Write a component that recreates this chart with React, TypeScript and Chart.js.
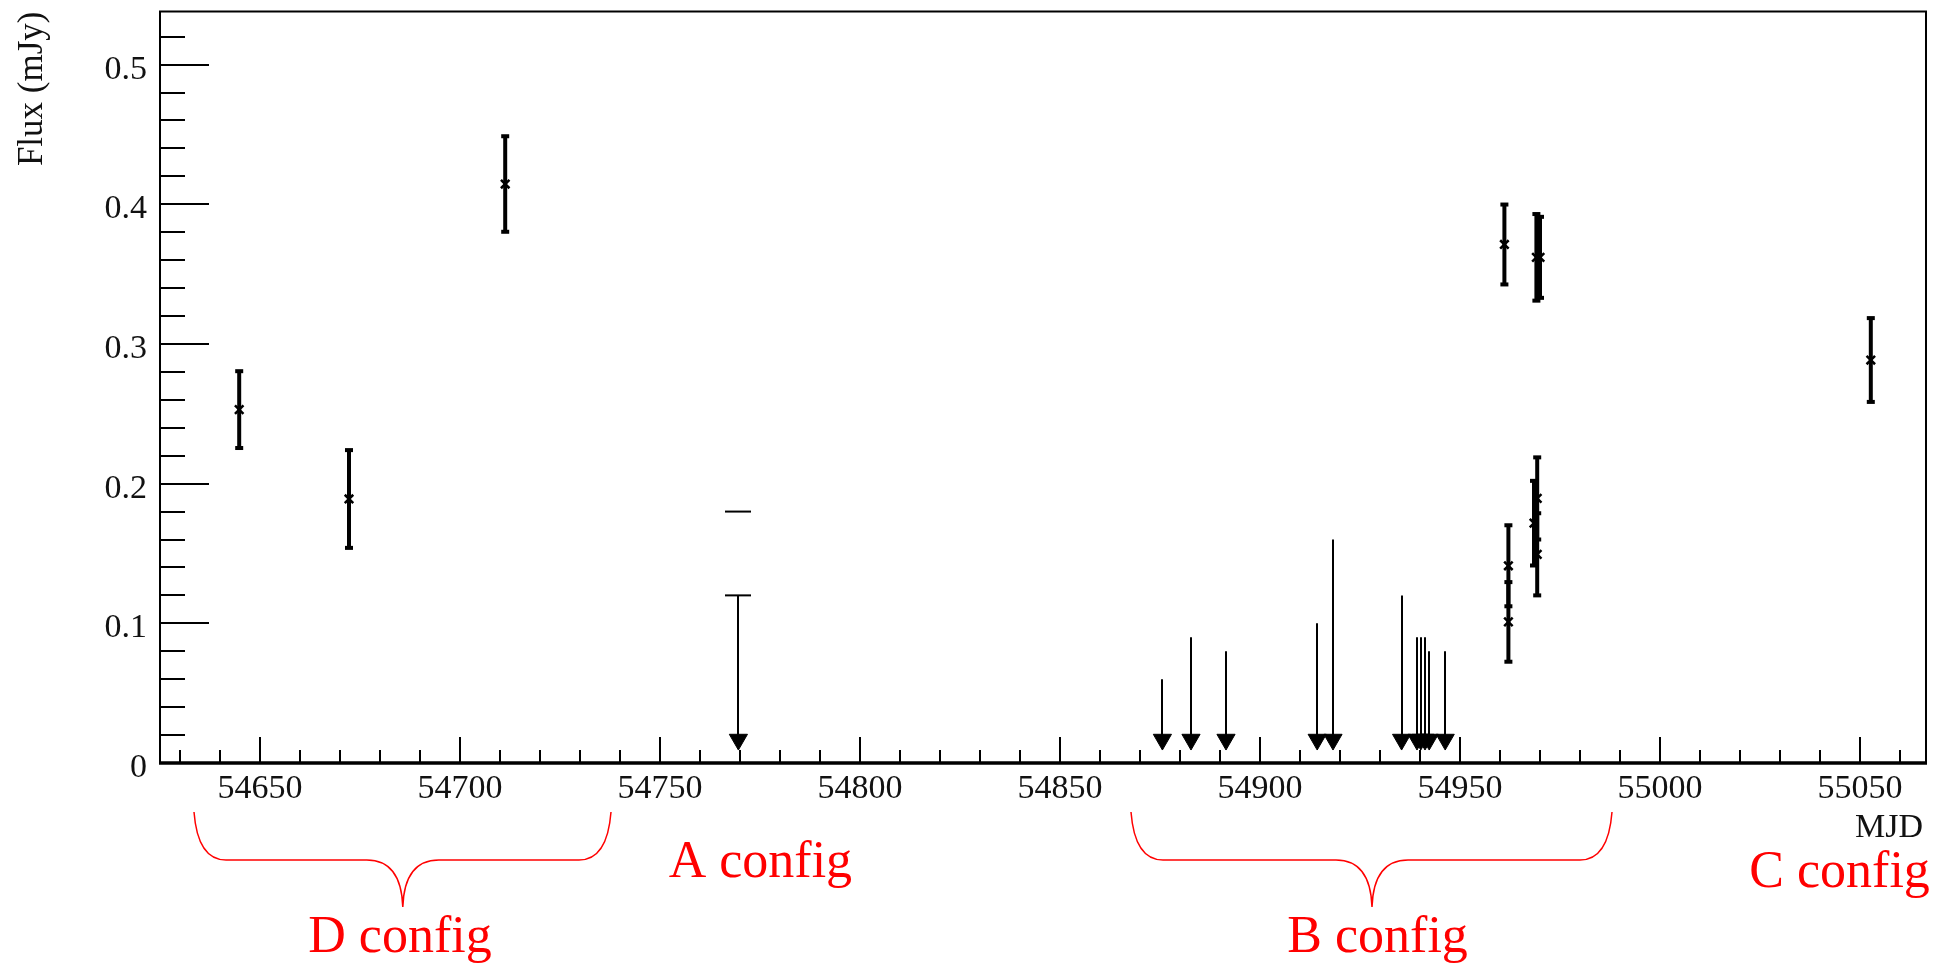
import React, { useEffect, useRef } from "react";
import { Chart, registerables } from "chart.js";

Chart.register(...registerables);

// ---- Data ----
// Detections (MJD, flux in mJy, symmetric 1-sigma error)
const DET_MJD = [54644.8, 54672.25, 54711.3, 54961.1, 54962.1, 54962.1, 54969.1, 54970.0, 54969.3, 54968.5, 54969.3, 55052.7];
const DET_FLUX = [0.253, 0.189, 0.4145, 0.3712, 0.1412, 0.101, 0.362, 0.362, 0.1894, 0.1717, 0.1494, 0.2885];
const DET_ERR = [0.0275, 0.035, 0.0342, 0.0286, 0.029, 0.0285, 0.031, 0.029, 0.0294, 0.0303, 0.0294, 0.030];

// Upper limits (MJD, flux limit in mJy)
const UL_MJD = [54769.6, 54875.6, 54882.75, 54891.5, 54914.3, 54918.25, 54935.4, 54939.25, 54940.2, 54941.25, 54942.3, 54946.3];
const UL_FLUX = [0.12, 0.06, 0.09, 0.08, 0.10, 0.16, 0.12, 0.09, 0.09, 0.09, 0.08, 0.08];
const UL_HAS_CAP = [true, false, false, false, false, false, false, false, false, false, false, false];
const UL_ARROW_END = 0.0168; // flux where the arrow heads sit

// Extra limit dash drawn above the A-config limit
const DASH_MJD = [54769.6];
const DASH_FLUX = [0.18];

// Axes
const X_MIN = 54625;
const X_MAX = 55066.5;
const Y_MIN = 0;
const Y_MAX = 0.538;
const X_MAJOR_TICKS = [54650, 54700, 54750, 54800, 54850, 54900, 54950, 55000, 55050];
const X_TICK_LABELS = ["54650", "54700", "54750", "54800", "54850", "54900", "54950", "55000", "55050"];
const X_MINOR_STEP = 10;
const Y_MAJOR_TICKS = [0, 0.1, 0.2, 0.3, 0.4, 0.5];
const Y_TICK_LABELS = ["0", "0.1", "0.2", "0.3", "0.4", "0.5"];
const Y_MINOR_STEP = 0.02;
const X_TITLE = "MJD";
const Y_TITLE = "Flux (mJy)";

// Configuration annotations
const CONFIG_LABELS = ["D config", "A config", "B config", "C config"];
const CONFIG_LABEL_MJD = [54685, 54775.1, 54929.4, 55044.9];
const CONFIG_LABEL_ROW = [1, 0, 1, 0.13];
const BRACE_START = [54633.5, 54867.75];
const BRACE_END = [54737.75, 54988];
const BRACE_TIP = [54685.7, 54928];

const SERIF = '"Liberation Serif", "Times New Roman", serif';

const overlayPlugin = {
  id: "rootStyle",
  beforeDatasetsDraw(chart: any) {
    const { ctx } = chart;
    const xs = chart.scales.x;
    const ys = chart.scales.y;
    ctx.save();
    ctx.strokeStyle = "#000";
    ctx.fillStyle = "#000";
    // error bars
    for (let i = 0; i < DET_MJD.length; i++) {
      const px = xs.getPixelForValue(DET_MJD[i]);
      const yTop = ys.getPixelForValue(DET_FLUX[i] + DET_ERR[i]);
      const yBot = ys.getPixelForValue(DET_FLUX[i] - DET_ERR[i]);
      ctx.lineWidth = 4;
      ctx.beginPath();
      ctx.moveTo(px, yTop);
      ctx.lineTo(px, yBot);
      ctx.stroke();
      ctx.fillRect(px - 4, yTop - 2, 8, 4);
      ctx.fillRect(px - 4, yBot - 2, 8, 4);
    }
    // upper-limit shafts
    ctx.lineWidth = 2;
    for (let i = 0; i < UL_MJD.length; i++) {
      const px = Math.round(xs.getPixelForValue(UL_MJD[i]));
      const yTop = ys.getPixelForValue(UL_FLUX[i]);
      const yBot = ys.getPixelForValue(UL_ARROW_END);
      ctx.beginPath();
      ctx.moveTo(px, yTop);
      ctx.lineTo(px, yBot);
      ctx.stroke();
      if (UL_HAS_CAP[i]) {
        ctx.beginPath();
        ctx.moveTo(px - 13, yTop);
        ctx.lineTo(px + 13, yTop);
        ctx.stroke();
      }
    }
    for (let i = 0; i < DASH_MJD.length; i++) {
      const px = Math.round(xs.getPixelForValue(DASH_MJD[i]));
      const py = ys.getPixelForValue(DASH_FLUX[i]);
      ctx.beginPath();
      ctx.moveTo(px - 13, py);
      ctx.lineTo(px + 13, py);
      ctx.stroke();
    }
    ctx.restore();
  },
  afterDraw(chart: any) {
    const { ctx, chartArea } = chart;
    const xs = chart.scales.x;
    const ys = chart.scales.y;
    const { left, right, top, bottom } = chartArea;
    ctx.save();
    ctx.strokeStyle = "#000";
    ctx.fillStyle = "#000";
    // frame
    ctx.lineWidth = 2;
    ctx.beginPath();
    ctx.moveTo(left, bottom);
    ctx.lineTo(left, top);
    ctx.lineTo(right, top);
    ctx.lineTo(right, bottom);
    ctx.stroke();
    ctx.lineWidth = 3.3;
    ctx.beginPath();
    ctx.moveTo(left - 1, bottom);
    ctx.lineTo(right + 1, bottom);
    ctx.stroke();

    // y ticks
    ctx.lineWidth = 2;
    for (let v = Y_MINOR_STEP; v < Y_MAX; v += Y_MINOR_STEP) {
      const py = Math.round(ys.getPixelForValue(v));
      const isMajor = Y_MAJOR_TICKS.some((t) => Math.abs(t - v) < 1e-6);
      ctx.beginPath();
      ctx.moveTo(left, py);
      ctx.lineTo(left + (isMajor ? 49 : 25), py);
      ctx.stroke();
    }
    // x ticks
    for (let v = Math.ceil(X_MIN / X_MINOR_STEP) * X_MINOR_STEP; v < X_MAX; v += X_MINOR_STEP) {
      const px = Math.round(xs.getPixelForValue(v));
      const isMajor = X_MAJOR_TICKS.includes(v);
      ctx.beginPath();
      ctx.moveTo(px, bottom);
      ctx.lineTo(px, bottom - (isMajor ? 26 : 13));
      ctx.stroke();
    }

    // tick labels
    ctx.font = `34px ${SERIF}`;
    ctx.fillStyle = "#111";
    ctx.textAlign = "right";
    ctx.textBaseline = "alphabetic";
    Y_MAJOR_TICKS.forEach((v, i) => {
      const py = ys.getPixelForValue(v);
      ctx.fillText(Y_TICK_LABELS[i], left - 13, py + 14);
    });
    ctx.textAlign = "center";
    X_MAJOR_TICKS.forEach((v, i) => {
      const px = xs.getPixelForValue(v);
      ctx.fillText(X_TICK_LABELS[i], px, bottom + 35);
    });
    // axis titles
    ctx.textAlign = "right";
    ctx.fillText(X_TITLE, right - 3, bottom + 74);
    ctx.save();
    ctx.font = `35px ${SERIF}`;
    ctx.translate(42, top);
    ctx.rotate(-Math.PI / 2);
    ctx.textAlign = "right";
    ctx.fillText(Y_TITLE, 0, 0);
    ctx.restore();

    // red annotations
    ctx.strokeStyle = "#ff0000";
    ctx.fillStyle = "#ff0000";
    ctx.lineWidth = 1.5;
    const yTopB = bottom + 49;
    const yFlat = bottom + 97;
    const yTip = bottom + 144;
    for (let i = 0; i < BRACE_START.length; i++) {
      const x0 = xs.getPixelForValue(BRACE_START[i]);
      const x1 = xs.getPixelForValue(BRACE_END[i]);
      const xc = xs.getPixelForValue(BRACE_TIP[i]);
      ctx.beginPath();
      ctx.moveTo(x0, yTopB);
      ctx.bezierCurveTo(x0 + 2, yFlat - 22, x0 + 10, yFlat, x0 + 32, yFlat);
      ctx.lineTo(xc - 36, yFlat);
      ctx.bezierCurveTo(xc - 12, yFlat, xc - 1, yFlat + 18, xc, yTip);
      ctx.bezierCurveTo(xc + 1, yFlat + 18, xc + 12, yFlat, xc + 36, yFlat);
      ctx.lineTo(x1 - 32, yFlat);
      ctx.bezierCurveTo(x1 - 10, yFlat, x1 - 2, yFlat - 22, x1, yTopB);
      ctx.stroke();
    }
    ctx.font = `52px ${SERIF}`;
    ctx.textAlign = "center";
    CONFIG_LABELS.forEach((lab, i) => {
      const px = xs.getPixelForValue(CONFIG_LABEL_MJD[i]);
      const row = CONFIG_LABEL_ROW[i];
      const base = bottom + 114 + row * 75;
      ctx.fillText(lab, px, base);
    });
    ctx.restore();
  },
};

export default function App() {
  const canvasRef = useRef<HTMLCanvasElement | null>(null);
  useEffect(() => {
    const canvas = canvasRef.current;
    if (!canvas) return;
    const chart = new Chart(canvas, {
      type: "scatter",
      data: {
        datasets: [
          {
            label: "Detections",
            data: DET_MJD.map((x, i) => ({ x, y: DET_FLUX[i] })),
            pointStyle: "crossRot",
            pointRadius: 6,
            borderColor: "#000",
            backgroundColor: "#000",
            borderWidth: 2.5,
          },
          {
            label: "Upper limits",
            data: UL_MJD.map((x) => ({ x, y: UL_ARROW_END })),
            pointStyle: "triangle",
            rotation: 180,
            pointRadius: 10.5,
            borderColor: "#000",
            backgroundColor: "#000",
            borderWidth: 1,
          },
        ],
      },
      options: {
        responsive: false,
        animation: false,
        devicePixelRatio: 1,
        events: [],
        layout: { padding: { left: 160, top: 10, right: 33, bottom: 202 } },
        plugins: { legend: { display: false }, tooltip: { enabled: false } },
        scales: {
          x: { type: "linear", display: false, min: X_MIN, max: X_MAX },
          y: { type: "linear", display: false, min: Y_MIN, max: Y_MAX },
        },
      },
      plugins: [overlayPlugin],
    });
    return () => chart.destroy();
  }, []);
  return (
    <div style={{ position: "absolute", left: 0, top: 0, width: 1959, height: 965, background: "#fff" }}>
      <canvas ref={canvasRef} width={1959} height={965} style={{ display: "block", width: 1959, height: 965 }} />
    </div>
  );
}
